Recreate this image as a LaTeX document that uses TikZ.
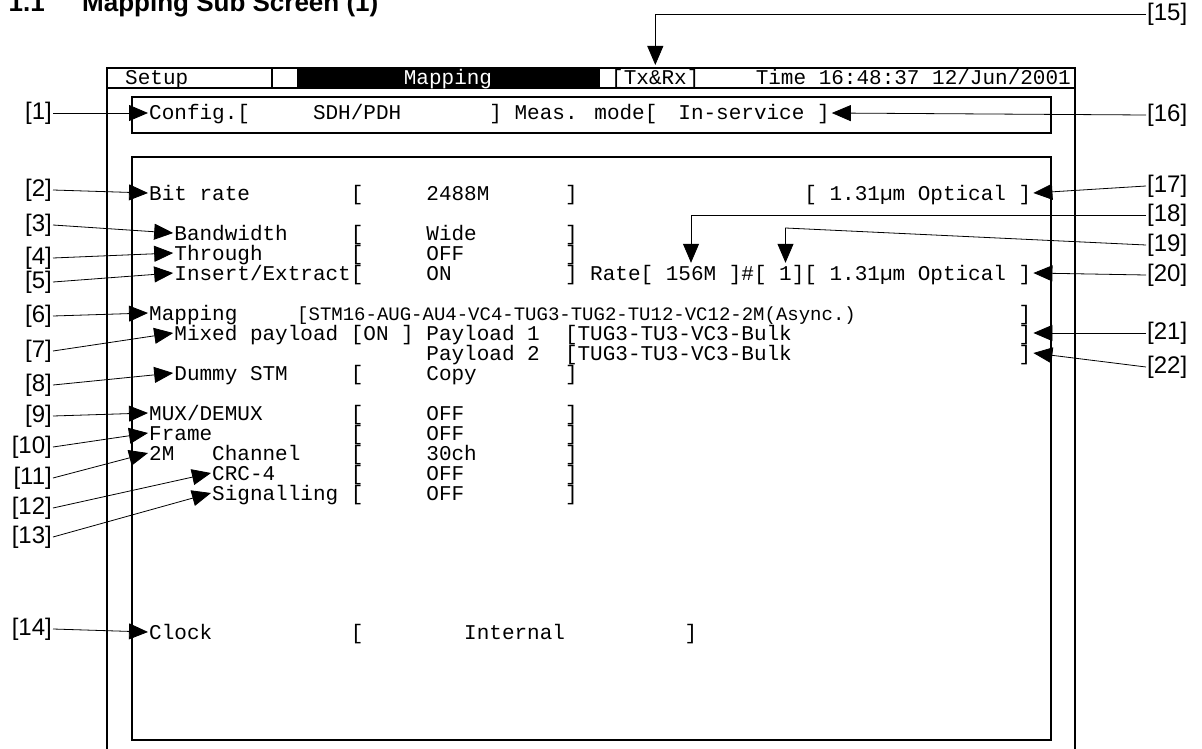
\documentclass[tikz,border=0pt]{standalone}
\usepackage{fontspec}
\setmainfont{Liberation Sans}
\newfontfamily\lcdfont{Liberation Mono}
\usetikzlibrary{arrows.meta}

\begin{document}
\begin{tikzpicture}[x=1pt,y=-1pt]
  \tikzstyle{scr} = [font=\lcdfont\fontsize{21}{21}\selectfont, inner sep=0pt, text height=14pt, text depth=0pt, anchor=west]
  \tikzstyle{lbl} = [font=\fontsize{24}{24}\selectfont, inner sep=1pt]
  \tikzstyle{ttl} = [font=\bfseries\fontsize{26}{26}\selectfont, inner sep=0pt]
  \tikzstyle{frm} = [line width=1.2pt]
  \tikzstyle{arr} = [-{Triangle[length=19pt,width=16pt]}, line width=0.8pt]
  \useasboundingbox (0,0) rectangle (1202,749);

  \node[ttl, anchor=base east] (secno) at (45,12) {1.1};
  \node[ttl, anchor=base west] (title) at (82,12) {Mapping Sub Screen (1)};

  % screen frames
  \draw[frm] (107,749) -- (107,68) -- (1075,68) -- (1075,749);
  \draw[frm] (107,88) -- (1075,88);
  \draw[frm] (272,68) -- (272,88);
  \fill (297,68) rectangle (600,88);
  \draw[frm] (132,97) rectangle (1051,133);
  \draw[frm] (132,157) rectangle (1051,740);

  % header
  \node[scr] (hsetup) at (125,78) {Setup};
  \node[scr, anchor=center, text=white] (hmap) at (448,78) {Mapping};
  \node[scr] (htxrx) at (611,78) {[Tx\&Rx]};
  \node[scr, anchor=east] (htime) at (1071,78) {Time 16:48:37 12/Jun/2001};

  % config line
  \node[scr] (cfg) at (149,113) {Config.[};
  \node[scr] (cfg1) at (312.8,113) {SDH/PDH};
  \node[scr] (cfg2) at (489.2,113) {]};
  \node[scr] (cfg3) at (514.4,113) {Meas. mode[};
  \node[scr] (cfg4) at (678.2,113) {In-service};
  \node[scr] (cfg5) at (816.8,113) {]};

  % main panel
  \node[scr] (br) at (149,193) {Bit rate};
  \node[scr] (br1) at (350.6,193) {[};
  \node[scr] (br2) at (426.2,193) {2488M};
  \node[scr] (br3) at (564.8,193) {]};
  \node[scr] (opt1) at (804.2,193) {[ 1.31µm Optical};
  \node[scr] (opt1e) at (1018.4,193) {]};

  \node[scr] (bw) at (174.2,233) {Bandwidth};
  \node[scr] (bw1) at (350.6,233) {[};
  \node[scr] (bw2) at (426.2,233) {Wide};
  \node[scr] (bw3) at (564.8,233) {]};

  \node[scr] (th) at (174.2,253) {Through};
  \node[scr] (th1) at (350.6,253) {[};
  \node[scr] (th2) at (426.2,253) {OFF};
  \node[scr] (th3) at (564.8,253) {]};

  \node[scr] (ie) at (174.2,273) {Insert/Extract[};
  \node[scr] (ie1) at (426.2,273) {ON};
  \node[scr] (ie2) at (564.8,273) {] Rate[};
  \node[scr] (rate) at (665.6,273) {156M};
  \node[scr] (ie3) at (728.6,273) {]\#[};
  \node[scr] (port) at (779,273) {1};
  \node[scr] (ie4) at (791.6,273) {][ 1.31µm Optical};
  \node[scr] (opt2e) at (1018.4,273) {]};

  \node[scr] (mp) at (149,313) {Mapping};
  \node[scr, font=\lcdfont\fontsize{19}{19}\selectfont] (mp1) at (297,313) {[STM16-AUG-AU4-VC4-TUG3-TUG2-TU12-VC12-2M(Async.)};
  \node[scr] (mp2) at (1018.4,313) {]};

  \node[scr] (mx) at (174.2,333) {Mixed payload [ON ]};
  \node[scr] (pl1) at (426.2,333) {Payload 1};
  \node[scr] (pl1v) at (564.8,333) {[TUG3-TU3-VC3-Bulk};
  \node[scr] (pl1e) at (1018.4,333) {]};
  \node[scr] (pl2) at (426.2,353) {Payload 2};
  \node[scr] (pl2v) at (564.8,353) {[TUG3-TU3-VC3-Bulk};
  \node[scr] (pl2e) at (1018.4,353) {]};

  \node[scr] (dm) at (174.2,373) {Dummy STM};
  \node[scr] (dm1) at (350.6,373) {[};
  \node[scr] (dm2) at (426.2,373) {Copy};
  \node[scr] (dm3) at (564.8,373) {]};

  \node[scr] (mux) at (149,413) {MUX/DEMUX};
  \node[scr] (mux1) at (350.6,413) {[};
  \node[scr] (mux2) at (426.2,413) {OFF};
  \node[scr] (mux3) at (564.8,413) {]};

  \node[scr] (fr) at (149,433) {Frame};
  \node[scr] (fr1) at (350.6,433) {[};
  \node[scr] (fr2) at (426.2,433) {OFF};
  \node[scr] (fr3) at (564.8,433) {]};

  \node[scr] (m2) at (149,453) {2M};
  \node[scr] (chn) at (212,453) {Channel};
  \node[scr] (chn1) at (350.6,453) {[};
  \node[scr] (chn2) at (426.2,453) {30ch};
  \node[scr] (chn3) at (564.8,453) {]};

  \node[scr] (crc) at (212,473) {CRC-4};
  \node[scr] (crc1) at (350.6,473) {[};
  \node[scr] (crc2) at (426.2,473) {OFF};
  \node[scr] (crc3) at (564.8,473) {]};

  \node[scr] (sig) at (212,493) {Signalling};
  \node[scr] (sig1) at (350.6,493) {[};
  \node[scr] (sig2) at (426.2,493) {OFF};
  \node[scr] (sig3) at (564.8,493) {]};

  \node[scr] (clk) at (149,632) {Clock};
  \node[scr] (clk1) at (350.6,632) {[};
  \node[scr] (clk2) at (464,632) {Internal};
  \node[scr] (clk3) at (684.5,632) {]};

  % callout labels
  \node[lbl, anchor=east] (l1) at (53,113) {[1]};
  \node[lbl, anchor=east] (l2) at (53,190) {[2]};
  \node[lbl, anchor=east] (l3) at (53,225) {[3]};
  \node[lbl, anchor=east] (l4) at (53,258) {[4]};
  \node[lbl, anchor=east] (l5) at (53,282) {[5]};
  \node[lbl, anchor=east] (l6) at (53,316) {[6]};
  \node[lbl, anchor=east] (l7) at (53,351) {[7]};
  \node[lbl, anchor=east] (l8) at (53,385) {[8]};
  \node[lbl, anchor=east] (l9) at (53,416) {[9]};
  \node[lbl, anchor=east] (l10) at (53,447) {[10]};
  \node[lbl, anchor=east] (l11) at (53,478) {[11]};
  \node[lbl, anchor=east] (l12) at (53,508) {[12]};
  \node[lbl, anchor=east] (l13) at (53,537) {[13]};
  \node[lbl, anchor=east] (l14) at (53,629) {[14]};

  \node[lbl, anchor=west] (l15) at (1146,14) {[15]};
  \node[lbl, anchor=west] (l16) at (1146,115) {[16]};
  \node[lbl, anchor=west] (l17) at (1146,186) {[17]};
  \node[lbl, anchor=west] (l18) at (1146,215) {[18]};
  \node[lbl, anchor=west] (l19) at (1146,245) {[19]};
  \node[lbl, anchor=west] (l20) at (1146,275) {[20]};
  \node[lbl, anchor=west] (l21) at (1146,333) {[21]};
  \node[lbl, anchor=west] (l22) at (1146,367) {[22]};

  \coordinate (k15) at (0,65);
  \coordinate (k19) at (0,228);

  \draw[arr] (l1.east) -- ([xshift=-1pt]cfg.west);
  \draw[arr] (l2.east) -- ([xshift=-1pt]br.west);
  \draw[arr] (l3.east) -- ([xshift=-1pt]bw.west);
  \draw[arr] (l4.east) -- ([xshift=-1pt]th.west);
  \draw[arr] (l5.east) -- ([xshift=-1pt]ie.west);
  \draw[arr] (l6.east) -- ([xshift=-1pt]mp.west);
  \draw[arr] (l7.east) -- ([xshift=-1pt]mx.west);
  \draw[arr] (l8.east) -- ([xshift=-1pt]dm.west);
  \draw[arr] (l9.east) -- ([xshift=-1pt]mux.west);
  \draw[arr] (l10.east) -- ([xshift=-1pt]fr.west);
  \draw[arr] (l11.east) -- ([xshift=-1pt]m2.west);
  \draw[arr] (l12.east) -- ([xshift=-1pt]crc.west);
  \draw[arr] (l13.east) -- ([xshift=-1pt]sig.west);
  \draw[arr] (l14.east) -- ([xshift=-1pt]clk.west);

  \draw[arr] (l15.west) -| (htxrx.north |- k15);
  \draw[arr] (l16.west) -- ([xshift=2pt]cfg5.east);
  \draw[arr] (l17.west) -- ([xshift=2pt]opt1e.east);
  \draw[arr] (l18.west) -| ([yshift=3pt]rate.north);
  \draw[arr] (l19.west) -- (port.north |- k19) -- ([yshift=3pt]port.north);
  \draw[arr] (l20.west) -- ([xshift=2pt]opt2e.east);
  \draw[arr] (l21.west) -- ([xshift=2pt]pl1e.east);
  \draw[arr] (l22.west) -- ([xshift=2pt]pl2e.east);
\end{tikzpicture}
\end{document}
